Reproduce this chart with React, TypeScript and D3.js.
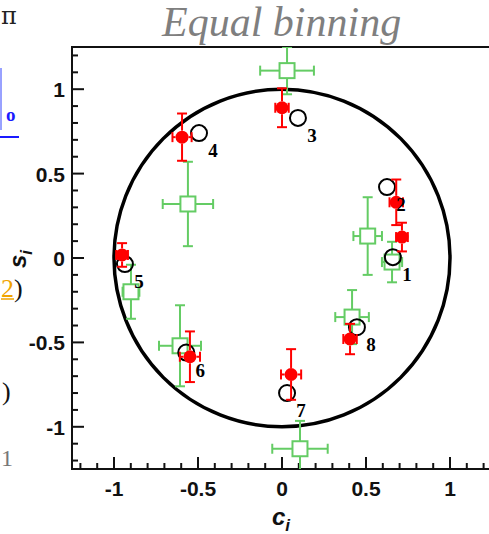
import React from "react";
import * as d3 from "d3";

// Bin numbers and expected (c_i, s_i) positions
const binLabels = ["1", "2", "3", "4", "5", "6", "7", "8"];
const expectedC = [0.66, 0.625, 0.095, -0.494, -0.935, -0.57, 0.03, 0.446];
const expectedS = [0.005, 0.42, 0.83, 0.74, -0.036, -0.56, -0.8, -0.41];

// Red series (filled circles) with errors
const redC = [0.714, 0.68, 0.0, -0.595, -0.952, -0.548, 0.054, 0.405];
const redS = [0.124, 0.33, 0.89, 0.716, 0.018, -0.585, -0.69, -0.48];
const redErrC = [0.035, 0.04, 0.04, 0.057, 0.035, 0.06, 0.06, 0.04];
const redErrS = [0.085, 0.135, 0.115, 0.14, 0.07, 0.15, 0.15, 0.09];

// Green series (open squares) with errors
const greenC = [0.655, 0.51, 0.03, -0.56, -0.899, -0.607, 0.107, 0.417];
const greenS = [-0.024, 0.13, 1.11, 0.32, -0.2, -0.52, -1.13, -0.35];
const greenErrC = [0.06, 0.085, 0.16, 0.15, 0.05, 0.125, 0.165, 0.1];
const greenErrS = [0.12, 0.23, 0.14, 0.25, 0.16, 0.24, 0.165, 0.16];

const majorTicks = [-1, -0.5, 0, 0.5, 1];
const title = "Equal binning";

const W = 489;
const H = 534;
const RED = "#ff0000";
const GREEN = "#64cc64";

const x = d3.scaleLinear().domain([-1.25, 1.25]).range([72, 492]);
const y = d3.scaleLinear().domain([-1.25, 1.25]).range([469, 47]);

const minorTicks = d3.range(-12, 13).map((i) => i / 10);

function ErrorBars({ cx, cy, ex, ey, half, color, width }: any) {
  const px = x(cx), py = y(cy);
  const x0 = x(cx - ex), x1 = x(cx + ex);
  const y0 = y(cy + ey), y1 = y(cy - ey);
  const cap = 5;
  const segs: any[] = [];
  if (py - y0 > half) segs.push([px, y0, px, py - half]);
  if (y1 - py > half) segs.push([px, py + half, px, y1]);
  if (px - x0 > half) segs.push([x0, py, px - half, py]);
  if (x1 - px > half) segs.push([px + half, py, x1, py]);
  segs.push([px - cap, y0, px + cap, y0]);
  segs.push([px - cap, y1, px + cap, y1]);
  segs.push([x0, py - cap, x0, py + cap]);
  segs.push([x1, py - cap, x1, py + cap]);
  return (
    <g stroke={color} strokeWidth={width}>
      {segs.map((s, i) => (
        <line key={i} x1={s[0]} y1={s[1]} x2={s[2]} y2={s[3]} />
      ))}
    </g>
  );
}

export default function App() {
  const rx = x(1) - x(0);
  const ry = y(0) - y(1);
  const sq = 7.5;
  return (
    <svg
      width={W}
      height={H}
      viewBox={`0 0 ${W} ${H}`}
      style={{ position: "absolute", left: 0, top: 0, background: "#fff" }}
    >
      <defs>
        <clipPath id="plotArea">
          <rect x={72} y={47} width={420} height={422} />
        </clipPath>
      </defs>

      {/* surrounding text fragments at the left margin */}
      <g fontFamily="'DejaVu Serif', 'Liberation Serif', serif">
        <text x={1} y={24} fontSize={24} fill="#222">π</text>
      </g>
      <g fontFamily="'Liberation Serif', 'DejaVu Serif', serif">
        <line x1={1} y1={68} x2={1} y2={130} stroke="#3344ff" strokeWidth={1} />
        <text x={6} y={121} fontSize={19} fontWeight="bold" fill="#1a1aff">o</text>
        <line x1={0} y1={137} x2={19} y2={137} stroke="#1a1aff" strokeWidth={2} />
        <text x={1} y={297} fontSize={26} fill="#f0a400">2</text>
        <line x1={1} y1={299} x2={14} y2={299} stroke="#f0a400" strokeWidth={1.5} />
        <text x={14} y={297} fontSize={26} fill="#111">)</text>
        <text x={2} y={400} fontSize={26} fill="#111">)</text>
        <text x={1} y={466} fontSize={24} fill="#777">1</text>
      </g>

      {/* title */}
      <text
        x={162}
        y={36}
        fontFamily="'Liberation Serif', 'DejaVu Serif', serif"
        fontStyle="italic"
        fontSize={42}
        fill="#7f7f7f"
      >
        {title}
      </text>

      {/* frame */}
      <g stroke="#111" strokeWidth={2} fill="none">
        <line x1={72} y1={47} x2={492} y2={47} />
        <line x1={72} y1={46} x2={72} y2={470} />
        <line x1={71} y1={469} x2={492} y2={469} />
      </g>

      {/* ticks */}
      <g stroke="#111" strokeWidth={2}>
        {minorTicks.map((t, i) => {
          const major = Math.round(t * 10) % 5 === 0;
          const len = major ? 12 : 6;
          return (
            <g key={i}>
              <line x1={x(t)} y1={469} x2={x(t)} y2={469 - len} />
              <line x1={72} y1={y(t)} x2={72 + len} y2={y(t)} />
            </g>
          );
        })}
      </g>

      {/* tick labels */}
      <g fontFamily="'Liberation Sans', Arial, sans-serif" fontWeight="bold" fontSize={21} fill="#111">
        {majorTicks.map((t) => (
          <text key={"x" + t} x={x(t)} y={496} textAnchor="middle">
            {String(t)}
          </text>
        ))}
        {majorTicks.map((t) => (
          <text key={"y" + t} x={65} y={y(t) + 8} textAnchor="end">
            {String(t)}
          </text>
        ))}
      </g>

      {/* axis titles */}
      <g fontFamily="'Liberation Sans', Arial, sans-serif" fontWeight="bold" fontStyle="italic" fill="#111">
        <text x={272} y={525} fontSize={24}>
          c<tspan fontSize={17} dy={6}>i</tspan>
        </text>
        <text transform="translate(26,268) rotate(-90)" fontSize={24}>
          s<tspan fontSize={17} dy={6}>i</tspan>
        </text>
      </g>

      <g clipPath="url(#plotArea)">
        {/* unit circle */}
        <ellipse cx={x(0)} cy={y(0)} rx={rx} ry={ry} fill="none" stroke="#000" strokeWidth={3.5} />

        {/* green squares */}
        {greenC.map((c, i) => (
          <g key={"g" + i}>
            <ErrorBars cx={c} cy={greenS[i]} ex={greenErrC[i]} ey={greenErrS[i]} half={sq} color={GREEN} width={2} />
            <rect x={x(c) - sq} y={y(greenS[i]) - sq} width={sq * 2} height={sq * 2} fill="none" stroke={GREEN} strokeWidth={2} />
          </g>
        ))}

        {/* expected positions */}
        {expectedC.map((c, i) => (
          <circle key={"e" + i} cx={x(c)} cy={y(expectedS[i])} r={8} fill="none" stroke="#000" strokeWidth={2} />
        ))}

        {/* red filled circles */}
        {redC.map((c, i) => (
          <g key={"r" + i}>
            <ErrorBars cx={c} cy={redS[i]} ex={redErrC[i]} ey={redErrS[i]} half={6.5} color={RED} width={2} />
            <circle cx={x(c)} cy={y(redS[i])} r={6.5} fill={RED} />
          </g>
        ))}
      </g>

      {/* bin numbers */}
      <g fontFamily="'Liberation Serif', 'DejaVu Serif', serif" fontWeight="bold" fontSize={19} fill="#000">
        {binLabels.map((l, i) => (
          <text key={l} x={x(expectedC[i]) + 14} y={y(expectedS[i]) + 24} textAnchor="middle">
            {l}
          </text>
        ))}
      </g>
    </svg>
  );
}
